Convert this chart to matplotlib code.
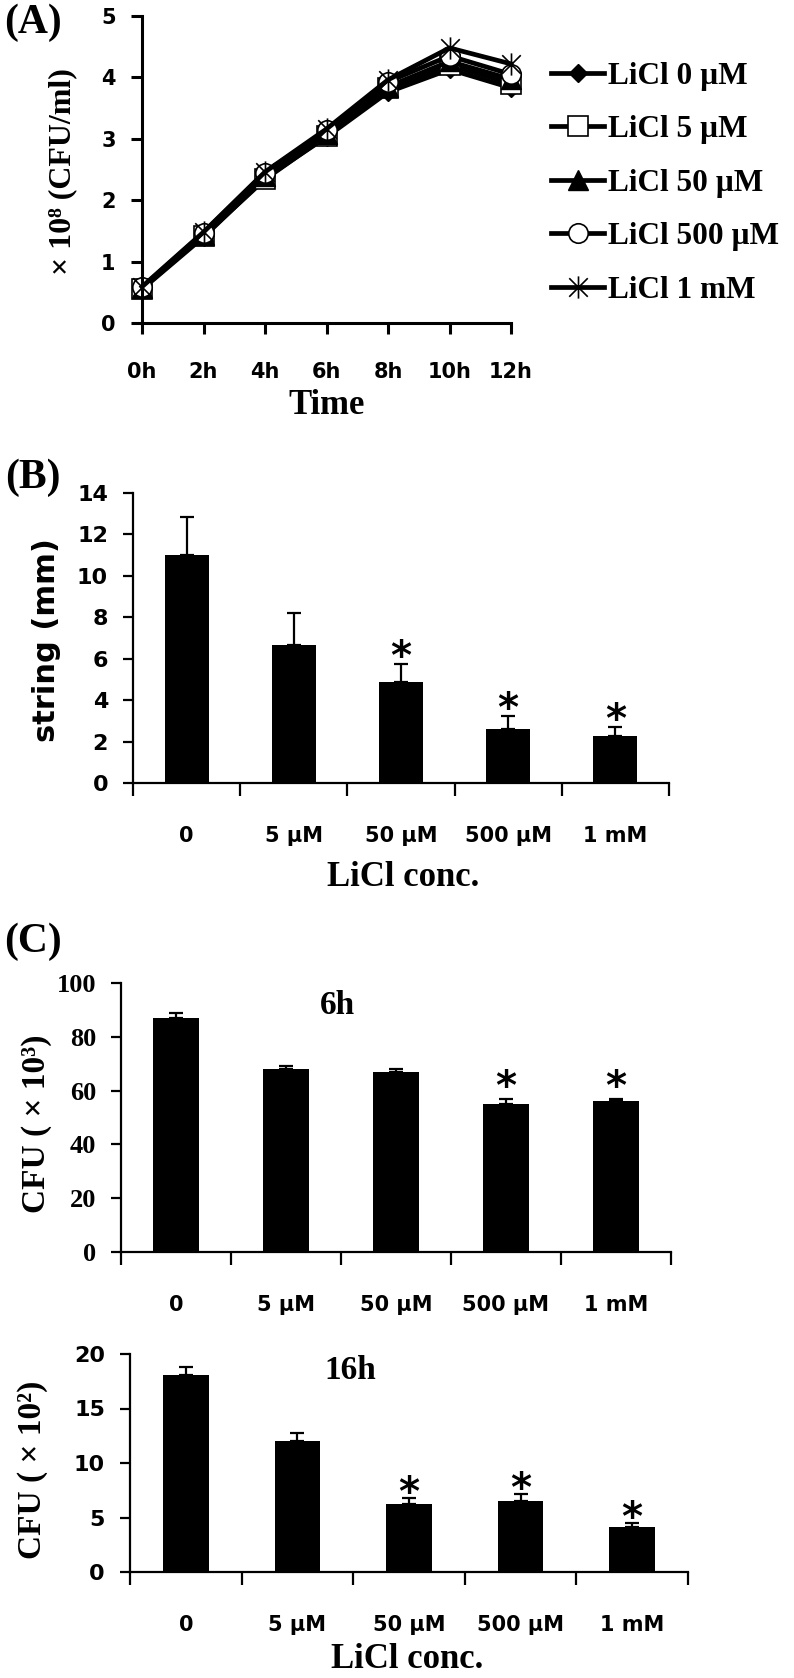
import numpy as np
import matplotlib
matplotlib.use('Agg')
import matplotlib.pyplot as plt
from matplotlib.path import Path

# ---- data ----
hours = ['0h', '2h', '4h', '6h', '8h', '10h', '12h']
licl_0uM = [0.55, 1.40, 2.36, 3.03, 3.76, 4.13, 3.83]
licl_5uM = [0.56, 1.42, 2.34, 3.05, 3.82, 4.20, 3.90]
licl_50uM = [0.57, 1.44, 2.40, 3.08, 3.85, 4.26, 3.97]
licl_500uM = [0.58, 1.47, 2.45, 3.14, 3.93, 4.35, 4.05]
licl_1mM = [0.59, 1.48, 2.46, 3.16, 3.96, 4.48, 4.22]
series_labels = ['LiCl 0 \u00b5M', 'LiCl 5 \u00b5M', 'LiCl 50 \u00b5M', 'LiCl 500 \u00b5M', 'LiCl 1 mM']

conc = ['0', '5 \u00b5M', '50 \u00b5M', '500 \u00b5M', '1 mM']
string_mm = [11.0, 6.65, 4.9, 2.62, 2.25]
string_err = [1.83, 1.55, 0.85, 0.63, 0.47]
string_sig = [False, False, True, True, True]

cfu_6h = [87.0, 68.0, 67.0, 55.0, 56.3]
cfu_6h_err = [1.8, 1.2, 1.2, 1.8, 0.5]
cfu_6h_sig = [False, False, False, True, True]

cfu_16h = [18.1, 12.05, 6.25, 6.55, 4.15]
cfu_16h_err = [0.7, 0.7, 0.5, 0.6, 0.35]
cfu_16h_sig = [False, False, True, True, True]

W, H = 794, 1678
SERIF = ['Liberation Serif', 'DejaVu Serif']
SANS = ['DejaVu Sans']

fig = plt.figure(figsize=(W / 100, H / 100), dpi=100)


def add_ax(left, top, right, bottom):
    """axes from pixel box (y measured from the top)"""
    return fig.add_axes([left / W, 1 - bottom / H, (right - left) / W, (bottom - top) / H])


def style_axes(ax, lw):
    for s in ['top', 'right']:
        ax.spines[s].set_visible(False)
    for s in ['left', 'bottom']:
        ax.spines[s].set_linewidth(lw)
        ax.spines[s].set_color('black')


# ---- (A) growth curves ----
ax = add_ax(142, 16, 511, 323)
style_axes(ax, 2.2)
x = np.arange(len(hours))

star_path = Path([(-1, -1), (1, 1), (-1, 1), (1, -1), (0, -1.2), (0, 1.2)],
                 [Path.MOVETO, Path.LINETO, Path.MOVETO, Path.LINETO, Path.MOVETO, Path.LINETO])
styles = [
    dict(marker='D', markersize=9, markerfacecolor='black'),
    dict(marker='s', markersize=14, markerfacecolor='white', markeredgewidth=1.2),
    dict(marker='^', markersize=14, markerfacecolor='black'),
    dict(marker='o', markersize=14, markerfacecolor='white', markeredgewidth=1.2),
    dict(marker=star_path, markersize=16, markeredgewidth=1.2),
]
for vals, lab, st in zip([licl_0uM, licl_5uM, licl_50uM, licl_500uM, licl_1mM], series_labels, styles):
    ax.plot(x, vals, color='black', linewidth=3.4, markeredgecolor='black', label=lab,
            clip_on=False, **st)

ax.set_xlim(0, 6)
ax.set_ylim(0, 5)
ax.set_xticks(x)
ax.set_xticklabels(hours)
ax.set_yticks(range(6))
ax.tick_params(axis='both', direction='out', length=8, width=2.2, labelsize=15)
ax.tick_params(axis='x', pad=20)
ax.tick_params(axis='y', pad=11)
for t in ax.get_xticklabels() + ax.get_yticklabels():
    t.set_fontweight('bold')
    t.set_family(SANS)

leg = ax.legend(loc='upper left', bbox_to_anchor=(551 / W, 1 - 62 / H), bbox_transform=fig.transFigure,
                frameon=False, handlelength=1.7, handletextpad=0.12, labelspacing=0.78,
                borderpad=0, borderaxespad=0,
                prop=dict(family=SERIF, weight='bold', size=22.5))

fig.text(33 / W, 1 - 23 / H, '(A)', family=SERIF, weight='bold', size=30, ha='center', va='center')
fig.text(63 / W, 1 - 172 / H, '\u00d7 10\u2078 (CFU/ml)', family=SERIF + ['DejaVu Sans'], weight='bold',
         size=23, rotation=90, ha='center', va='center')
fig.text(327 / W, 1 - 405 / H, 'Time', family=SERIF, weight='bold', size=25, ha='center', va='center')


# ---- bar panels ----
def bar_panel(box, vals, errs, sig, ymax, ystep, tick_family, tick_size, star_off):
    ax = add_ax(*box)
    style_axes(ax, 1.6)
    pos = np.arange(len(conc))
    ax.bar(pos, vals, width=0.41, color='black', zorder=2)
    ax.errorbar(pos, vals, yerr=[np.zeros(len(errs)), errs], fmt='none', ecolor='black',
                elinewidth=1.6, capsize=4.8, capthick=1.6, zorder=1)
    for i, (v, e, s) in enumerate(zip(vals, errs, sig)):
        if s:
            ax.annotate('*', xy=(i, v + e), xytext=(0, star_off), textcoords='offset points',
                        ha='center', va='baseline', family=SANS, weight='bold', size=29)
    ax.set_xlim(-0.5, len(conc) - 0.5)
    ax.set_ylim(0, ymax)
    ax.set_yticks(np.arange(0, ymax + 0.1, ystep))
    ax.set_xticks(np.arange(-0.5, len(conc)))
    ax.set_xticklabels([])
    ax.set_xticks(pos, minor=True)
    ax.set_xticklabels(conc, minor=True)
    ax.tick_params(axis='x', which='major', direction='out', length=9, width=1.6)
    ax.tick_params(axis='x', which='minor', length=0, pad=31, labelsize=15)
    ax.tick_params(axis='y', direction='out', length=7, width=1.6, pad=11, labelsize=tick_size)
    for t in ax.get_xticklabels(minor=True):
        t.set_fontweight('bold')
        t.set_family(SANS)
    for t in ax.get_yticklabels():
        t.set_fontweight('bold')
        t.set_family(tick_family)
    return ax


# (B) string test
bar_panel((133, 493, 669, 783), string_mm, string_err, string_sig, 14, 2, SANS, 16, -4)
fig.text(33 / W, 1 - 478 / H, '(B)', family=SERIF, weight='bold', size=30, ha='center', va='center')
fig.text(47 / W, 1 - 640 / H, 'string (mm)', family=SANS, weight='bold', size=22,
         rotation=90, ha='center', va='center')
fig.text(403 / W, 1 - 877 / H, 'LiCl conc.', family=SERIF, weight='bold', size=25, ha='center', va='center')

# (C) CFU at 6h
ax6 = bar_panel((121, 983, 671, 1252), cfu_6h, cfu_6h_err, cfu_6h_sig, 100, 20, SERIF, 19, 0)
ax6.text(1.47, 91.8, '6h', family=SERIF, weight='bold', size=24, ha='center', va='center')
fig.text(33 / W, 1 - 942 / H, '(C)', family=SERIF, weight='bold', size=30, ha='center', va='center')
fig.text(37 / W, 1 - 1124 / H, 'CFU ( \u00d7 10\u00b3)', family=SERIF + ['DejaVu Sans'], weight='bold',
         size=24, rotation=90, ha='center', va='center')

# CFU at 16h
ax16 = bar_panel((130, 1354, 688, 1572), cfu_16h, cfu_16h_err, cfu_16h_sig, 20, 5, SANS, 16, -5)
ax16.text(1.47, 18.5, '16h', family=SERIF, weight='bold', size=24, ha='center', va='center')
fig.text(33 / W, 1 - 1470 / H, 'CFU ( \u00d7 10\u00b2)', family=SERIF + ['DejaVu Sans'], weight='bold',
         size=24, rotation=90, ha='center', va='center')
fig.text(407 / W, 1 - 1660 / H, 'LiCl conc.', family=SERIF, weight='bold', size=25, ha='center', va='center')

fig.savefig('out.png', dpi=100)
